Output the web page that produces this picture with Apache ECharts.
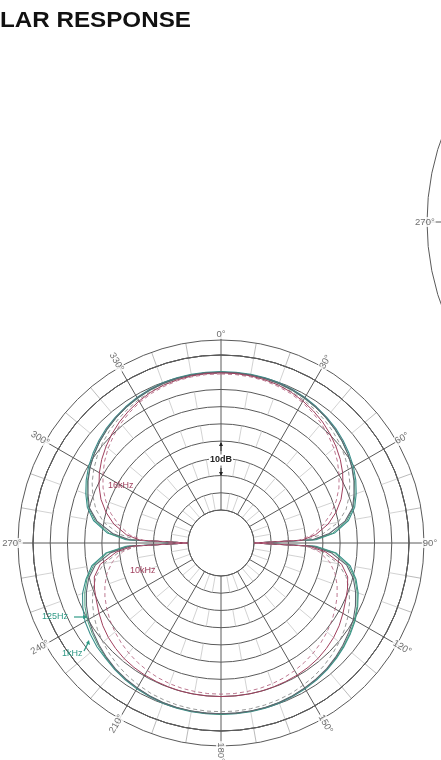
<!DOCTYPE html>
<html><head><meta charset="utf-8">
<script src="https://cdn.jsdelivr.net/npm/echarts@6/dist/echarts.min.js"></script>
<style>html,body{margin:0;padding:0;background:#fff}#c{width:441px;height:760px}</style>
</head><body><div id="c"></div>
<script>
// ---- data (dB re. reference, 0 deg = front, clockwise) ----
const angles = [0,5,10,15,20,25,30,35,40,45,50,55,60,65,70,75,80,85,88,
  90,
  92,95,100,105,110,115,120,125,130,135,140,145,150,155,160,165,170,175,180,
  185,190,195,200,205,210,215,220,225,230,235,240,245,250,255,260,265,268,
  270,
  272,275,280,285,290,295,300,305,310,315,320,325,330,335,340,345,350,355,360];
const resp125Hz = [-4.8,-4.8,-4.85,-4.95,-5.1,-5.4,-5.8,-6.3,-6.9,-7.5,-8.3,-9.2,-10.2,-11.4,-12.8,-14.4,-17,-21.5,-27,
  -45,
  -27,-21,-16.5,-14,-12.2,-10.8,-9.6,-8.7,-7.9,-7.2,-6.6,-6.1,-5.7,-5.4,-5.1,-4.95,-4.85,-4.8,-4.8,
  -4.8,-4.85,-4.95,-5.1,-5.4,-5.7,-6.1,-6.6,-7.2,-7.6,-8.3,-9,-10.3,-11.8,-14,-16.5,-21,-27,
  -45,
  -27,-21.5,-17,-14.4,-12.8,-11.4,-10.2,-9.2,-8.3,-7.5,-6.9,-6.3,-5.8,-5.4,-5.1,-4.95,-4.85,-4.8,-4.8];
const resp1kHz = [-5,-5,-5.05,-5.2,-5.4,-5.7,-6.1,-6.6,-7.2,-7.9,-8.7,-9.6,-10.6,-11.8,-13.2,-14.8,-17.5,-22,-27.5,
  -45,
  -27.5,-21.5,-17,-14.3,-12.5,-11,-9.8,-8.9,-8.1,-7.4,-6.8,-6.3,-5.9,-5.6,-5.3,-5.1,-5,-4.9,-4.9,
  -4.9,-5,-5.1,-5.3,-5.6,-5.9,-6.3,-6.8,-7.4,-8.1,-8.9,-9.8,-11,-12.5,-14.3,-17,-21.5,-27.5,
  -45,
  -27.5,-22,-17.5,-14.8,-13.2,-11.8,-10.6,-9.6,-8.7,-7.9,-7.2,-6.6,-6.1,-5.7,-5.4,-5.2,-5.05,-5,-5];
const resp4kHz = [-5,-5,-5.05,-5.15,-5.3,-5.6,-6,-6.5,-7.1,-7.8,-8.6,-9.6,-10.7,-12,-13.5,-15,-18,-23,-28,
  -45,
  -28,-22.5,-17.5,-14.8,-13,-11.5,-10.2,-9.3,-8.4,-7.6,-6.9,-6.4,-6,-5.6,-5.3,-5.15,-5.05,-5,-5,
  -5,-5.05,-5.15,-5.3,-5.6,-6,-6.4,-6.9,-7.6,-8.4,-9.3,-10.2,-11.5,-13,-14.8,-17.5,-22.5,-28,
  -45,
  -28,-23,-18,-15,-13.5,-12,-10.7,-9.6,-8.6,-7.8,-7.1,-6.5,-6,-5.6,-5.3,-5.15,-5.05,-5,-5];
const resp8kHz = [-5.3,-5.3,-5.4,-5.55,-5.8,-6.1,-6.6,-7.2,-7.9,-8.7,-9.6,-10.7,-11.9,-13.3,-15,-17,-20,-25,-30,
  -45,
  -30,-25,-20,-17,-15,-13.4,-12,-10.8,-9.8,-8.9,-8.1,-7.4,-6.9,-6.4,-6.1,-5.85,-5.7,-5.6,-5.6,
  -5.6,-5.7,-5.85,-6.1,-6.4,-6.9,-7.4,-8.1,-8.9,-9.8,-10.8,-12,-13.4,-15,-17,-20,-25,-30,
  -45,
  -30,-25,-20,-17,-15,-13.3,-11.9,-10.7,-9.6,-8.7,-7.9,-7.2,-6.6,-6.1,-5.8,-5.55,-5.4,-5.3,-5.3];
const resp10kHz = [-5.2,-5.2,-5.3,-5.5,-5.8,-6.3,-7,-7.8,-8.7,-9.8,-11,-12.3,-13.8,-15.5,-17.5,-20,-23,-27,-31,
  -45,
  -29,-24,-19,-16.5,-15.5,-14.7,-13.7,-12.7,-11.9,-11.3,-10.8,-10.5,-10.3,-10.2,-10.1,-10,-10,-10,-10,
  -10,-10,-10,-10.1,-10.2,-10.3,-10.5,-10.8,-11.3,-11.9,-12.7,-13.7,-14.7,-15.5,-16.5,-19,-24,-29,
  -45,
  -31,-27,-23,-20,-17.5,-15.5,-13.8,-12.3,-11,-9.8,-8.7,-7.8,-7,-6.3,-5.8,-5.5,-5.3,-5.2,-5.2];
const resp16kHz = [-5.5,-5.5,-5.6,-5.8,-6.2,-6.7,-7.4,-8.3,-9.3,-10.5,-11.8,-13.3,-15,-16.8,-19,-21.5,-24.5,-28,-32,
  -45,
  -30,-26,-22.5,-20.3,-18.7,-17.4,-16.3,-15.3,-14.4,-13.6,-12.9,-12.3,-11.8,-11.4,-11.1,-10.9,-10.8,-10.7,-10.7,
  -10.7,-10.8,-10.9,-11.1,-11.4,-11.8,-12.3,-12.9,-13.6,-14.4,-15.3,-16.3,-17.4,-18.7,-20.3,-22.5,-26,-30,
  -45,
  -32,-28,-24.5,-21.5,-19,-16.8,-15,-13.3,-11.8,-10.5,-9.3,-8.3,-7.4,-6.7,-6.2,-5.8,-5.6,-5.5,-5.5];
const degTicks = [0,30,60,90,120,150,180,210,240,270,300,330];
const degLabels = ['0°','30°','60°','90°','120°','150°','180°','210°','240°','270°','300°','330°'];
const dbMin = -45, dbMax = 0, dbStep = 5;
const titleText = 'LAR RESPONSE';

// ---- chart ----
const chart = echarts.init(document.getElementById('c'));
const C = [221, 543];
const GRID = '#5a5a5a';
function mk(vals){ return angles.map((a,i)=>[vals[i], a]); }
function rot(a){ if(a===0) return 0; let r=((90-a)%180+180)%180; if(r>=90) r-=180; return r; }

const curveDefs = [
  {name:'125 Hz', vals:resp125Hz, color:'#3b8f8c', type:'solid', width:1.1},
  {name:'1 kHz', vals:resp1kHz, color:'#47a07e', type:'solid', width:1.0},
  {name:'4 kHz', vals:resp4kHz, color:'#5e6470', type:'solid', width:1.1},
  {name:'8 kHz', vals:resp8kHz, color:'#8c8c8c', type:[4,3], width:0.9},
  {name:'10 kHz', vals:resp10kHz, color:'#a0405e', type:'solid', width:1.0},
  {name:'16 kHz', vals:resp16kHz, color:'#b56a84', type:[4,3], width:0.9}
];

const hidden = {axisLine:{show:false},axisTick:{show:false},axisLabel:{show:false},splitLine:{show:false}};

const option = {
  animation:false,
  backgroundColor:'#fff',
  polar:[
    {center:C, radius:[33,188]},
    {center:C, radius:[188,203]},
    {center:[677,222], radius:[220,250]}
  ],
  radiusAxis:[
    Object.assign({polarIndex:0, type:'value', min:dbMin, max:dbMax, interval:dbStep}, hidden,
      {splitLine:{show:true, lineStyle:{color:GRID, width:1}}}),
    Object.assign({polarIndex:1, type:'value', min:0, max:1}, hidden),
    Object.assign({polarIndex:2, type:'value', min:0, max:1}, hidden)
  ],
  angleAxis:[
    {polarIndex:0, type:'value', min:0, max:360, interval:30, startAngle:90, clockwise:true,
     axisLine:{show:true, lineStyle:{color:GRID, width:1}}, axisTick:{show:false}, axisLabel:{show:false},
     splitLine:{show:true, lineStyle:{color:GRID, width:1}},
     minorTick:{show:false, splitNumber:3},
     minorSplitLine:{show:true, lineStyle:{color:'#c6c6c6', width:0.8, type:[17.2,17.2]}}},
    {polarIndex:1, type:'value', min:0, max:360, interval:30, startAngle:90, clockwise:true,
     axisLine:{show:true, lineStyle:{color:GRID, width:1}},
     axisTick:{show:true, length:7, lineStyle:{color:GRID, width:1}}, axisLabel:{show:false},
     splitLine:{show:true, lineStyle:{color:GRID, width:1}},
     minorTick:{show:false, splitNumber:3},
     minorSplitLine:{show:true, lineStyle:{color:'#a8a8a8', width:0.8}}},
    {polarIndex:2, type:'value', min:0, max:360, interval:30, startAngle:90, clockwise:true,
     axisLine:{show:true, lineStyle:{color:GRID, width:1}},
     axisTick:{show:true, length:6, lineStyle:{color:GRID, width:1}}, axisLabel:{show:false},
     splitLine:{show:true, lineStyle:{color:GRID, width:1}}}
  ],
  series: curveDefs.map(d=>({
    type:'line', name:d.name, coordinateSystem:'polar', polarIndex:0, clip:false,
    data:mk(d.vals), showSymbol:false, symbol:'none', smooth:false,
    lineStyle:{color:d.color, width:d.width, type:d.type}, z:3
  })).concat([
    {type:'scatter', coordinateSystem:'polar', polarIndex:1, clip:false, silent:true, z:6,
     symbolSize:1, itemStyle:{color:'rgba(0,0,0,0)'},
     data:degTicks.map((a,i)=>({value:[1.4, a], label:{rotate:rot(a)}})),
     label:{show:true, position:'inside', formatter:p=>degLabels[p.dataIndex],
       fontSize:9.5, color:'#4a4a4a', fontFamily:'Liberation Sans', backgroundColor:'#fff', padding:[0,1]}},
    {type:'scatter', coordinateSystem:'polar', polarIndex:2, clip:false, silent:true, z:6,
     symbolSize:1, itemStyle:{color:'rgba(0,0,0,0)'},
     data:[{value:[1.07, 270]}],
     label:{show:true, position:'inside', formatter:()=>degLabels[9],
       fontSize:9.5, color:'#4a4a4a', fontFamily:'Liberation Sans', backgroundColor:'#fff', padding:[0,1]}}
  ]),
  graphic:[
    {type:'text', left:0, top:10, scaleX:1.1, style:{text:titleText, font:'bold 22px "Liberation Sans", Arial, sans-serif', fill:'#111'}},
    {type:'text', x:221, y:460, z:10, style:{text:'10dB', font:'bold 9px "Liberation Sans", sans-serif', fill:'#222', align:'center', verticalAlign:'middle', backgroundColor:'#fff', padding:[1,1]}},
    {type:'polyline', z:10, shape:{points:[[221,451],[221,443]]}, style:{stroke:'#222', lineWidth:1}},
    {type:'polygon', z:10, shape:{points:[[219,446],[223,446],[221,442]]}, style:{fill:'#222'}},
    {type:'polyline', z:10, shape:{points:[[221,468],[221,475]]}, style:{stroke:'#222', lineWidth:1}},
    {type:'polygon', z:10, shape:{points:[[219,472],[223,472],[221,476]]}, style:{fill:'#222'}},
    {type:'text', x:108, y:486, z:10, style:{text:'16kHz', font:'9px "Liberation Sans", sans-serif', fill:'#a0405e', verticalAlign:'middle'}},
    {type:'text', x:130, y:571, z:10, style:{text:'10kHz', font:'9px "Liberation Sans", sans-serif', fill:'#a0405e', verticalAlign:'middle'}},
    {type:'text', x:42, y:617, z:10, style:{text:'125Hz', font:'9px "Liberation Sans", sans-serif', fill:'#2f9a86', verticalAlign:'middle'}},
    {type:'polyline', z:10, shape:{points:[[74,617],[84,617]]}, style:{stroke:'#2f9a86', lineWidth:1.2}},
    {type:'polygon', z:10, shape:{points:[[83,615],[83,619],[88,617]]}, style:{fill:'#2f9a86'}},
    {type:'text', x:62, y:654, z:10, style:{text:'1kHz', font:'9px "Liberation Sans", sans-serif', fill:'#2f9a86', verticalAlign:'middle'}},
    {type:'polyline', z:10, shape:{points:[[84,651],[88,643]]}, style:{stroke:'#2f9a86', lineWidth:1.2}},
    {type:'polygon', z:10, shape:{points:[[86,643],[90,645],[89,640]]}, style:{fill:'#2f9a86'}}
  ]
};
chart.setOption(option);
</script></body></html>
